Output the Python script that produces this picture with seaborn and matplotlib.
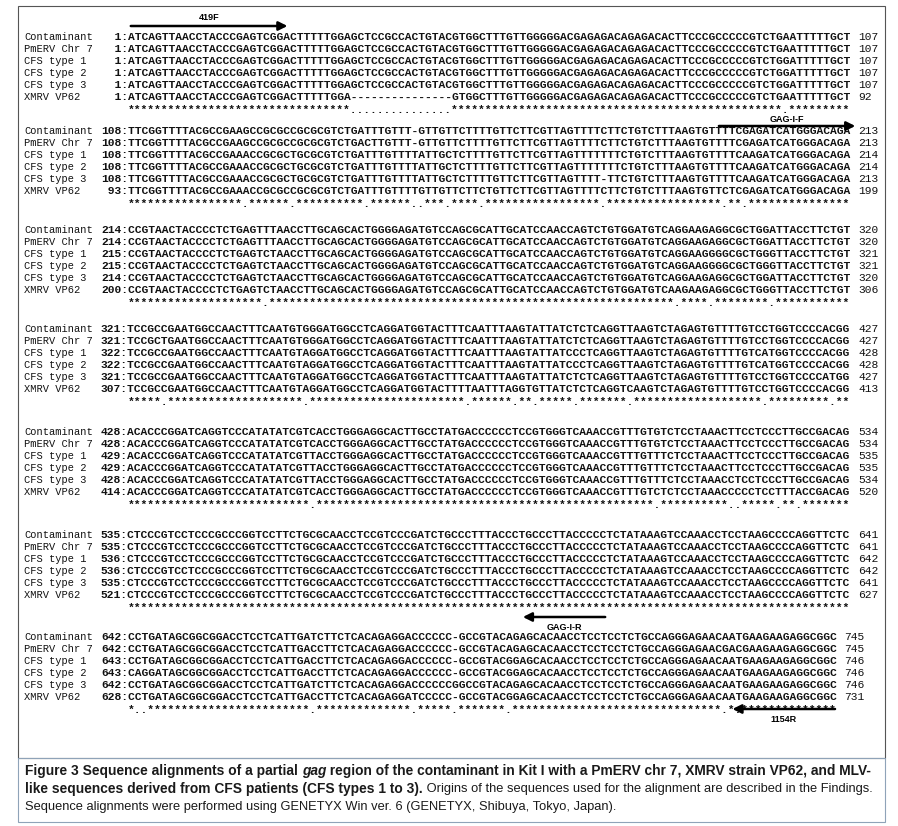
import matplotlib
matplotlib.use("Agg")
import matplotlib.pyplot as plt
import seaborn as sns

# sequence names, one row per sequence in every block
names = ["Contaminant", "PmERV Chr 7", "CFS type 1", "CFS type 2", "CFS type 3", "XMRV VP62"]

contaminant = [
    "ATCAGTTAACCTACCCGAGTCGGACTTTTTGGAGCTCCGCCACTGTACGTGGCTTTGTTGGGGGACGAGAGACAGAGACACTTCCCGCCCCCGTCTGAATTTTTGCT",
    "TTCGGTTTTACGCCGAAGCCGCGCCGCGCGTCTGATTTGTTT-GTTGTTCTTTTGTTCTTCGTTAGTTTTCTTCTGTCTTTAAGTGTTTTCGAGATCATGGGACAGA",
    "CCGTAACTACCCCTCTGAGTTTAACCTTGCAGCACTGGGGAGATGTCCAGCGCATTGCATCCAACCAGTCTGTGGATGTCAGGAAGAGGCGCTGGATTACCTTCTGT",
    "TCCGCCGAATGGCCAACTTTCAATGTGGGATGGCCTCAGGATGGTACTTTCAATTTAAGTATTATCTCTCAGGTTAAGTCTAGAGTGTTTTGTCCTGGTCCCCACGG",
    "ACACCCGGATCAGGTCCCATATATCGTCACCTGGGAGGCACTTGCCTATGACCCCCCTCCGTGGGTCAAACCGTTTGTGTCTCCTAAACTTCCTCCCTTGCCGACAG",
    "CTCCCGTCCTCCCGCCCGGTCCTTCTGCGCAACCTCCGTCCCGATCTGCCCTTTACCCTGCCCTTACCCCCTCTATAAAGTCCAAACCTCCTAAGCCCCAGGTTCTC",
    "CCTGATAGCGGCGGACCTCCTCATTGATCTTCTCACAGAGGACCCCCC-GCCGTACAGAGCACAACCTCCTCCTCTGCCAGGGAGAACAATGAAGAAGAGGCGGC",
]
pmerv = [
    "ATCAGTTAACCTACCCGAGTCGGACTTTTTGGAGCTCCGCCACTGTACGTGGCTTTGTTGGGGGACGAGAGACAGAGACACTTCCCGCCCCCGTCTGAATTTTTGCT",
    "TTCGGTTTTACGCCGAAGCCGCGCCGCGCGTCTGACTTGTTT-GTTGTTCTTTTGTTCTTCGTTAGTTTTCTTCTGTCTTTAAGTGTTTTCGAGATCATGGGACAGA",
    "CCGTAACTACCCCTCTGAGTTTAACCTTGCAGCACTGGGGAGATGTCCAGCGCATTGCATCCAACCAGTCTGTGGATGTCAGGAAGAGGCGCTGGATTACCTTCTGT",
    "TCCGCTGAATGGCCAACTTTCAATGTGGGATGGCCTCAGGATGGTACTTTCAATTTAAGTATTATCTCTCAGGTTAAGTCTAGAGTGTTTTGTCCTGGTCCCCACGG",
    "ACACCCGGATCAGGTCCCATATATCGTCACCTGGGAGGCACTTGCCTATGACCCCCCTCCGTGGGTCAAACCGTTTGTGTCTCCTAAACTTCCTCCCTTGCCGACAG",
    "CTCCCGTCCTCCCGCCCGGTCCTTCTGCGCAACCTCCGTCCCGATCTGCCCTTTACCCTGCCCTTACCCCCTCTATAAAGTCCAAACCTCCTAAGCCCCAGGTTCTC",
    "CCTGATAGCGGCGGACCTCCTCATTGACCTTCTCACAGAGGACCCCCC-GCCGTACAGAGCACAACCTCCTCCTCTGCCAGGGAGAACGACGAAGAAGAGGCGGC",
]
cfs1 = [
    "ATCAGTTAACCTACCCGAGTCGGACTTTTTGGAGCTCCGCCACTGTACGTGGCTTTGTTGGGGGACGAGAGACAGAGACACTTCCCGCCCCCGTCTGGATTTTTGCT",
    "TTCGGTTTTACGCCGAAACCGCGCTGCGCGTCTGATTTGTTTTATTGCTCTTTTGTTCTTCGTTAGTTTTTTTCTGTCTTTAAGTGTTTTCAAGATCATGGGACAGA",
    "CCGTAACTACCCCTCTGAGTCTAACCTTGCAGCACTGGGGAGATGTCCAGCGCATTGCATCCAACCAGTCTGTGGATGTCAGGAAGGGGCGCTGGGTTACCTTCTGT",
    "TCCGCCGAATGGCCAACTTTCAATGTAGGATGGCCTCAGGATGGTACTTTCAATTTAAGTATTATCCCTCAGGTTAAGTCTAGAGTGTTTTGTCATGGTCCCCACGG",
    "ACACCCGGATCAGGTCCCATATATCGTTACCTGGGAGGCACTTGCCTATGACCCCCCTCCGTGGGTCAAACCGTTTGTTTCTCCTAAACTTCCTCCCTTGCCGACAG",
    "CTCCCGTCCTCCCGCCCGGTCCTTCTGCGCAACCTCCGTCCCGATCTGCCCTTTACCCTGCCCTTACCCCCTCTATAAAGTCCAAACCTCCTAAGCCCCAGGTTCTC",
    "CCTGATAGCGGCGGACCTCCTCATTGACCTTCTCACAGAGGACCCCCC-GCCGTACGGAGCACAACCTCCTCCTCTGCCAGGGAGAACAATGAAGAAGAGGCGGC",
]
cfs2 = [
    "ATCAGTTAACCTACCCGAGTCGGACTTTTTGGAGCTCCGCCACTGTACGTGGCTTTGTTGGGGGACGAGAGACAGAGACACTTCCCGCCCCCGTCTGGATTTTTGCT",
    "TTCGGTTTTACGCCGAAACCGCGCTGCGCGTCTGATTTGTTTTATTGCTCTTTTGTTCTTCGTTAGTTTTTTTCTGTCTTTAAGTGTTTTCAAGATCATGGGACAGA",
    "CCGTAACTACCCCTCTGAGTCTAACCTTGCAGCACTGGGGAGATGTCCAGCGCATTGCATCCAACCAGTCTGTGGATGTCAGGAAGGGGCGCTGGGTTACCTTCTGT",
    "TCCGCCGAATGGCCAACTTTCAATGTAGGATGGCCTCAGGATGGTACTTTCAATTTAAGTATTATCCCTCAGGTTAAGTCTAGAGTGTTTTGTCATGGTCCCCACGG",
    "ACACCCGGATCAGGTCCCATATATCGTTACCTGGGAGGCACTTGCCTATGACCCCCCTCCGTGGGTCAAACCGTTTGTTTCTCCTAAACTTCCTCCCTTGCCGACAG",
    "CTCCCGTCCTCCCGCCCGGTCCTTCTGCGCAACCTCCGTCCCGATCTGCCCTTTACCCTGCCCTTACCCCCTCTATAAAGTCCAAACCTCCTAAGCCCCAGGTTCTC",
    "CAGGATAGCGGCGGACCTCCTCATTGACCTTCTCACAGAGGACCCCCC-GCCGTACGGAGCACAACCTCCTCCTCTGCCAGGGAGAACAATGAAGAAGAGGCGGC",
]
cfs3 = [
    "ATCAGTTAACCTACCCGAGTCGGACTTTTTGGAGCTCCGCCACTGTACGTGGCTTTGTTGGGGGACGAGAGACAGAGACACTTCCCGCCCCCGTCTGGATTTTTGCT",
    "TTCGGTTTTACGCCGAAACCGCGCTGCGCGTCTGATTTGTTTTATTGCTCTTTTGTTCTTCGTTAGTTTT-TTCTGTCTTTAAGTGTTTTCAAGATCATGGGACAGA",
    "CCGTAACTACCCCTCTGAGTCTAACCTTGCAGCACTGGGGAGATGTCCAGCGCATTGCATCCAACCAGTCTGTGGATGTCAGGAAGAGGCGCTGGATTACCTTCTGT",
    "TCCGCCGAATGGCCAACTTTCAATGTAGGATGGCCTCAGGATGGTACTTTCAATTTAAGTATTATCTCTCAGGTTAAGTCTAGAGTGTTTTGTCCTGGTCCCCATGG",
    "ACACCCGGATCAGGTCCCATATATCGTTACCTGGGAGGCACTTGCCTATGACCCCCCTCCGTGGGTCAAACCGTTTGTTTCTCCTAAACCTCCTCCCTTGCCGACAG",
    "CTCCCGTCCTCCCGCCCGGTCCTTCTGCGCAACCTCCGTCCCGATCTGCCCTTTACCCTGCCCTTACCCCCTCTATAAAGTCCAAACCTCCTAAGCCCCAGGTTCTC",
    "CCTGATAGCGGCGGACCTCCTCATTGATCTTCTCACAGAGGACCCCCCGGCCGTACAGAGCACAACCTCCTCCTCTGCCAGGGAGAACAATGAAGAAGAGGCGGC",
]
xmrv = [
    "ATCAGTTAACCTACCCGAGTCGGACTTTTTGGA---------------GTGGCTTTGTTGGGGGACGAGAGACAGAGACACTTCCCGCCCCCGTCTGAATTTTTGCT",
    "TTCGGTTTTACGCCGAAACCGCGCCGCGCGTCTGATTTGTTTTGTTGTTCTTCTGTTCTTCGTTAGTTTTCTTCTGTCTTTAAGTGTTCTCGAGATCATGGGACAGA",
    "CCGTAACTACCCCTCTGAGTCTAACCTTGCAGCACTGGGGAGATGTCCAGCGCATTGCATCCAACCAGTCTGTGGATGTCAAGAAGAGGCGCTGGGTTACCTTCTGT",
    "TCCGCCGAATGGCCAACTTTCAATGTAGGATGGCCTCAGGATGGTACTTTTAATTTAGGTGTTATCTCTCAGGTCAAGTCTAGAGTGTTTTGTCCTGGTCCCCACGG",
    "ACACCCGGATCAGGTCCCATATATCGTCACCTGGGAGGCACTTGCCTATGACCCCCCTCCGTGGGTCAAACCGTTTGTCTCTCCTAAACCCCCTCCTTTACCGACAG",
    "CTCCCGTCCTCCCGCCCGGTCCTTCTGCGCAACCTCCGTCCCGATCTGCCCTTTACCCTGCCCTTACCCCCTCTATAAAGTCCAAACCTCCTAAGCCCCAGGTTCTC",
    "CCTGATAGCGGCGGACCTCCTCATTGACCTTCTCACAGAGGATCCCCC-GCCGTACGGAGCACAACCTCCTCCTCTGCCAGGGAGAACAATGAAGAAGAGGCGGC",
]

# start / end numbering printed at each side of the rows
starts = [
    [1, 108, 214, 321, 428, 535, 642],
    [1, 108, 214, 321, 428, 535, 642],
    [1, 108, 215, 322, 429, 536, 643],
    [1, 108, 215, 322, 429, 536, 643],
    [1, 108, 214, 321, 428, 535, 642],
    [1, 93, 200, 307, 414, 521, 628],
]
ends = [
    [107, 213, 320, 427, 534, 641, 745],
    [107, 213, 320, 427, 534, 641, 745],
    [107, 214, 321, 428, 535, 642, 746],
    [107, 214, 321, 428, 535, 642, 746],
    [107, 213, 320, 427, 534, 641, 746],
    [92, 199, 306, 413, 520, 627, 731],
]

# primers: name, block, first column, last column, direction
primer_names = ["419F", "GAG-I-F", "GAG-I-R", "1154R"]
primer_block = [0, 1, 6, 6]
primer_cols = [(1, 24), (88, 108), (59, 71), (90, 105)]
primer_dir = [1, 1, -1, -1]

caption_bold = "Figure 3 Sequence alignments of a partial "
caption_line1b = " region of the contaminant in Kit I with a PmERV chr 7, XMRV strain VP62, and MLV-"
caption_line2a = "like sequences derived from CFS patients (CFS types 1 to 3)."
caption_line2b = " Origins of the sequences used for the alignment are described in the Findings."
caption_line3 = "Sequence alignments were performed using GENETYX Win ver. 6 (GENETYX, Shibuya, Tokyo, Japan)."

sns.set_theme(style="white")
plt.rcParams['font.family'] = ['Liberation Sans', 'DejaVu Sans']

fig = plt.figure(figsize=(8.98, 8.26), dpi=100)
ax = fig.add_axes([0, 0, 1, 1])
ax.set_xlim(0, 898)
ax.set_ylim(826, 0)
ax.axis('off')

CW = 6.76           # character width in pixels
FS = CW * 1.2       # monospace font size (pt)
X0 = 128            # first sequence column
block_y = [37, 131, 230, 329, 432, 535, 637]
ROW = 12
mono = dict(family='Liberation Mono', va='center', ha='left', color='#111111')

seqs = [contaminant, pmerv, cfs1, cfs2, cfs3, xmrv]
for b in range(7):
    y0 = block_y[b]
    for r, name in enumerate(names):
        y = y0 + r * ROW
        ax.text(24, y, name, fontsize=7.5, **mono)
        s = seqs[r][b]
        ax.text(X0 - 4 * CW, y, f"{starts[r][b]:>3}:" + s, fontsize=FS, fontweight='bold', **mono)
        ax.text(X0 + (len(s) + 1) * CW, y, str(ends[r][b]), fontsize=FS, **mono)
    cols = list(zip(*[seqs[r][b] for r in range(6)]))
    cons = "".join("*" if len(set(c)) == 1 else "." for c in cols)
    ax.text(X0, y0 + 6 * ROW + 1, cons, fontsize=FS, fontweight='bold', **mono)

# primer arrows
arrow_y = [26, 126, 617, 709]
label_y = [18, 119, 627, 720]
for i, name in enumerate(primer_names):
    c0, c1 = primer_cols[i]
    xa, xb = X0 + (c0 - 1) * CW, X0 + c1 * CW
    if primer_dir[i] < 0:
        xa, xb = xb, xa
    ax.annotate('', xy=(xb, arrow_y[i]), xytext=(xa, arrow_y[i]),
                arrowprops=dict(arrowstyle='-|>', lw=1.8, color='black', mutation_scale=13))
    ax.text((xa + xb) / 2, label_y[i], name, fontsize=6.5, fontweight='bold',
            ha='center', va='center', color='black')

# frames
ax.add_patch(plt.Rectangle((18, 6), 867, 752, fill=False, lw=0.8, ec='#555555'))
ax.add_patch(plt.Rectangle((18, 758), 867, 64, fill=False, lw=0.8, ec='#8fa3b8'))

# caption, fitted to the box width
fig.canvas.draw()
renderer = fig.canvas.get_renderer()


def text_width(s, size, weight, style):
    a = ax.text(0, 0, "x" + s + "x", fontsize=size, fontweight=weight, fontstyle=style)
    b = ax.text(0, 0, "xx", fontsize=size, fontweight=weight, fontstyle=style)
    w = a.get_window_extent(renderer).width - b.get_window_extent(renderer).width
    a.remove()
    b.remove()
    return w


def draw_runs(x, y, runs, sizes):
    for s, weight, style in runs:
        size = sizes[weight]
        ax.text(x, y, s, fontsize=size, fontweight=weight, fontstyle=style,
                va='center', ha='left', color='#1a1a1a')
        x += text_width(s, size, weight, style)


line1 = [(caption_bold, 'bold', 'normal'), ("gag", 'bold', 'italic'), (caption_line1b, 'bold', 'normal')]
w1 = sum(text_width(s, 9, w, st) for s, w, st in line1)
bold_fs = 9 * 850 / w1
wb2 = text_width(caption_line2a, bold_fs, 'bold', 'normal')
wn2 = text_width(caption_line2b, 9, 'normal', 'normal')
norm_fs = 9 * (848 - wb2) / wn2
sizes = {'bold': bold_fs, 'normal': norm_fs}
draw_runs(25, 771, line1, sizes)
draw_runs(25, 789, [(caption_line2a, 'bold', 'normal'), (caption_line2b, 'normal', 'normal')], sizes)
draw_runs(25, 807, [(caption_line3, 'normal', 'normal')], sizes)

fig.savefig("out.png", dpi=100)
